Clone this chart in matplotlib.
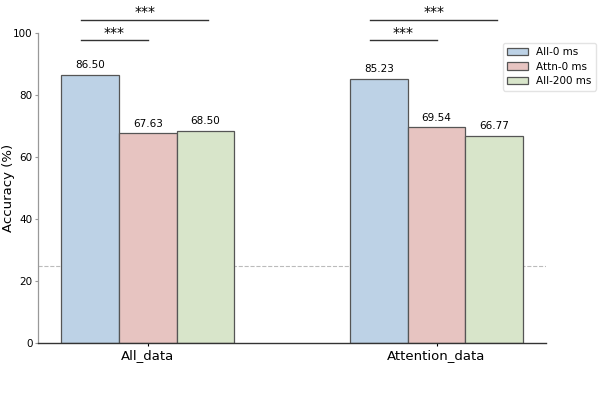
import matplotlib
matplotlib.use("Agg")
import matplotlib.pyplot as plt
import numpy as np

categories = ["All_data", "Attention_data"]
series_names = ["All-0 ms", "Attn-0 ms", "All-200 ms"]
all0 = [86.50, 85.23]
attn0 = [67.63, 69.54]
all200 = [68.50, 66.77]
colors = ["#bdd2e6", "#e7c4c1", "#d8e5ca"]
chance = 25

fig = plt.figure(figsize=(5.98, 3.93), dpi=100)
ax = fig.add_axes([0.0635, 0.127, 0.85, 0.789])

x = np.arange(len(categories))
w = 0.2
vals = [all0, attn0, all200]
for i, (name, v, c) in enumerate(zip(series_names, vals, colors)):
    bars = ax.bar(x + (i - 1) * w, v, w, color=c, edgecolor="#555555", linewidth=0.9, label=name)
    for b, val in zip(bars, v):
        ax.text(b.get_x() + b.get_width() / 2, val + 1.5, f"{val:.2f}",
                ha="center", va="bottom", fontsize=7.5)

ax.axhline(chance, color="#bbbbbb", linestyle="--", linewidth=0.8, zorder=0)

ax.set_ylim(0, 100)
ax.set_xticks(x)
ax.set_xticklabels(categories, fontsize=9.5)
ax.set_yticks([0, 20, 40, 60, 80, 100])
ax.tick_params(axis="y", labelsize=7.5, length=2, color="#999999", pad=2)
ax.tick_params(axis="x", length=2, pad=2)
ax.set_ylabel("Accuracy (%)", fontsize=9.5)
ax.yaxis.set_label_coords(-0.045, 0.5)
ax.spines["top"].set_visible(False)
ax.spines["right"].set_visible(False)
ax.spines["left"].set_color("#999999")
ax.spines["left"].set_linewidth(0.9)
ax.spines["bottom"].set_color("#333333")
ax.spines["bottom"].set_linewidth(1.0)

# significance markers
for xc in x:
    for x_end, yl in [(xc, 97.7), (xc + 0.21, 104.2)]:
        x0 = xc - 0.23
        ax.plot([x0, x_end], [yl, yl], color="#333333", linewidth=1.0, clip_on=False)
        ax.text((x0 + x_end) / 2, yl + 0.2, "***", ha="center", va="bottom", fontsize=10)

ax.legend(loc="upper right", bbox_to_anchor=(1.108, 0.985), fontsize=7.5, frameon=True,
          edgecolor="#dddddd", fancybox=True, handlelength=2.0, labelspacing=0.45)

fig.savefig("out.png", dpi=100)
